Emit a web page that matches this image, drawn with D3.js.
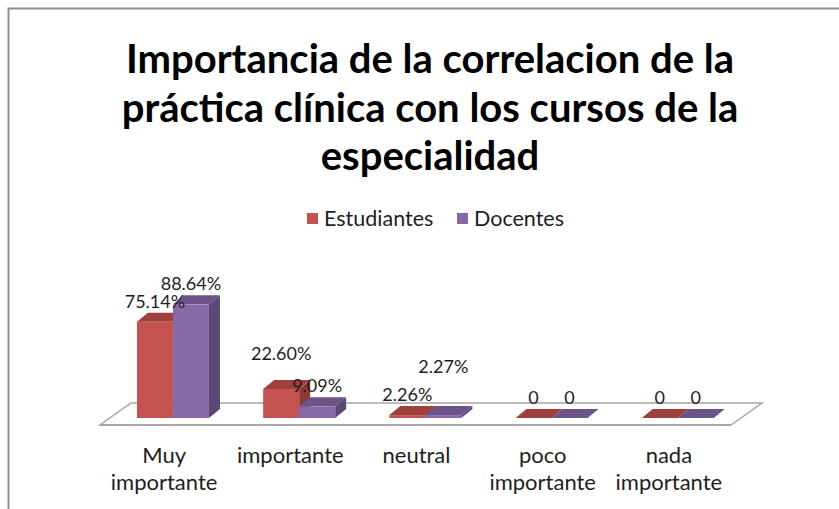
<!DOCTYPE html>
<html>
<head>
<meta charset="utf-8">
<script src="https://cdn.jsdelivr.net/npm/d3@7"></script>
<style>
  html, body { margin: 0; padding: 0; background: #fff; }
  svg { display: block; font-family: Lato, "Open Sans", sans-serif; }
</style>
</head>
<body>
<div id="chart"></div>
<script>
// Chart data
const categories = ["Muy importante", "importante", "neutral", "poco importante", "nada importante"];
const categoryLines = [["Muy", "importante"], ["importante"], ["neutral"], ["poco", "importante"], ["nada", "importante"]];
const seriesNames = ["Estudiantes", "Docentes"];
const estudiantes = [75.14, 22.60, 2.26, 0, 0];
const docentes = [88.64, 9.09, 2.27, 0, 0];
const titleLines = [
  "Importancia de la correlacion de la",
  "práctica clínica con los cursos de la",
  "especialidad"
];

// Excel places a couple of labels higher than the rest
const labelLift = { "Estudiantes|importante": 15, "Docentes|neutral": 28 };

const W = 839, H = 509;

const colors = {
  Estudiantes: { front: "#C4524E", top: "#9E403C", side: "#8C3835" },
  Docentes: { front: "#8769A7", top: "#6C548B", side: "#5B4876" }
};

const svg = d3.select("#chart")
  .append("svg")
  .attr("width", W)
  .attr("height", H);

svg.append("rect")
  .attr("width", W)
  .attr("height", H)
  .attr("fill", "#fff");

// Chart area border (runs off the right and bottom)
svg.append("rect")
  .attr("x", 8.5)
  .attr("y", 8.5)
  .attr("width", W + 20)
  .attr("height", H + 20)
  .attr("fill", "none")
  .attr("stroke", "#8E8E8E")
  .attr("stroke-width", 2);

// Title
svg.append("g")
  .selectAll("text")
  .data(titleLines)
  .enter()
  .append("text")
  .attr("x", 430)
  .attr("y", (d, i) => 73 + i * 48.5)
  .attr("text-anchor", "middle")
  .style("font-size", "40px")
  .style("font-weight", "bold")
  .style("fill", "#000")
  .text(d => d);

// Legend
const legendX = [307, 457];
const legend = svg.append("g");
seriesNames.forEach((s, i) => {
  legend.append("rect")
    .attr("x", legendX[i])
    .attr("y", 213)
    .attr("width", 11)
    .attr("height", 11)
    .attr("fill", colors[s].front);
  legend.append("text")
    .attr("x", legendX[i] + 17)
    .attr("y", 226)
    .style("font-size", "21.5px")
    .style("fill", "#1e1e1e")
    .text(s);
});

// Floor geometry (3D projection)
const floorFront = 425, floorLeft = 100, floorRight = 731;
const depthX = 31, depthY = -22;
const barShiftX = depthX * 7 / 22, barShiftY = depthY * 7 / 22;
const barDX = 11, barDY = -9;
const baseY = floorFront + barShiftY;

const x = d3.scaleBand()
  .domain(categories)
  .range([floorLeft, floorRight]);

const xs = d3.scaleBand()
  .domain(seriesNames)
  .range([0, 72]);

const y = d3.scaleLinear()
  .domain([0, 100])
  .range([baseY, baseY - 128.2]);

// Floor
svg.append("path")
  .attr("d", `M${floorLeft},${floorFront} L${floorRight},${floorFront} L${floorRight + depthX},${floorFront + depthY} L${floorLeft + depthX},${floorFront + depthY} Z`)
  .attr("fill", "#fff")
  .attr("stroke", "#A6A6A6")
  .attr("stroke-width", 1.5);
svg.append("line")
  .attr("x1", floorLeft)
  .attr("x2", floorRight)
  .attr("y1", floorFront)
  .attr("y2", floorFront)
  .attr("stroke", "#A6A6A6")
  .attr("stroke-width", 2);

// Bars
const barData = [];
categories.forEach((c, ci) => {
  seriesNames.forEach((s, si) => {
    barData.push({ cat: c, series: s, value: si === 0 ? estudiantes[ci] : docentes[ci] });
  });
});

const barX = d => x(d.cat) + x.bandwidth() / 2 - 36 + barShiftX + xs(d.series);

const bars = svg.append("g")
  .selectAll("g")
  .data(barData)
  .enter()
  .append("g");

bars.append("path")
  .attr("d", d => {
    const x0 = barX(d), x1 = x0 + xs.bandwidth(), yt = y(d.value);
    return `M${x1},${yt} L${x1 + barDX},${yt + barDY} L${x1 + barDX},${baseY + barDY} L${x1},${baseY} Z`;
  })
  .attr("fill", d => colors[d.series].side);

bars.append("path")
  .attr("d", d => {
    const x0 = barX(d), x1 = x0 + xs.bandwidth(), yt = y(d.value);
    return `M${x0},${yt} L${x1},${yt} L${x1 + barDX},${yt + barDY} L${x0 + barDX},${yt + barDY} Z`;
  })
  .attr("fill", d => colors[d.series].top);

bars.append("rect")
  .attr("x", d => barX(d))
  .attr("y", d => y(d.value))
  .attr("width", xs.bandwidth())
  .attr("height", d => baseY - y(d.value))
  .attr("fill", d => colors[d.series].front);

// Value labels
svg.append("g")
  .selectAll("text")
  .data(barData)
  .enter()
  .append("text")
  .attr("x", d => barX(d) + xs.bandwidth() / 2)
  .attr("y", d => y(d.value) - 14 - (labelLift[d.series + "|" + d.cat] || 0))
  .attr("text-anchor", "middle")
  .style("font-size", "18px")
  .style("fill", "#1e1e1e")
  .text(d => d.value === 0 ? "0" : d.value.toFixed(2) + "%");

// Category labels
const catLabels = svg.append("g")
  .selectAll("text")
  .data(categories)
  .enter()
  .append("text")
  .attr("x", d => x(d) + x.bandwidth() / 2 + 1)
  .attr("y", 463)
  .attr("text-anchor", "middle")
  .style("font-size", "22px")
  .style("fill", "#1e1e1e");

catLabels.selectAll("tspan")
  .data((d, i) => categoryLines[i])
  .enter()
  .append("tspan")
  .attr("x", function () { return d3.select(this.parentNode).attr("x"); })
  .attr("dy", (d, i) => i === 0 ? 0 : 27)
  .text(d => d);
</script>
</body>
</html>
